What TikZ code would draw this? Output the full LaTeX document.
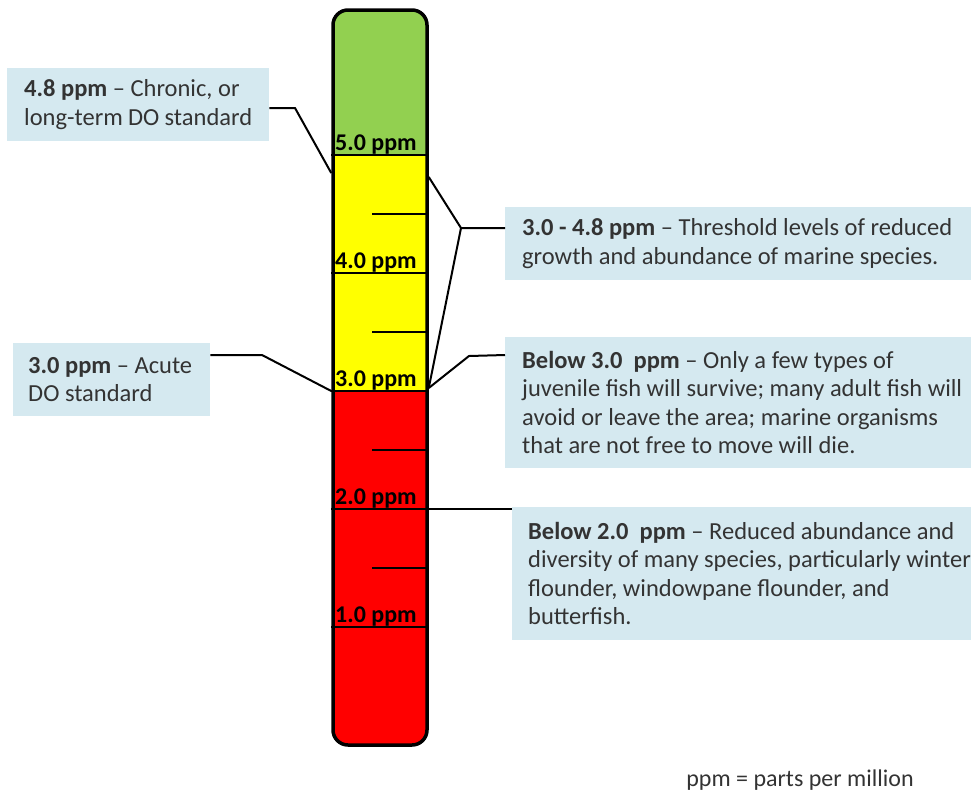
\documentclass[tikz,border=0pt]{standalone}
\usepackage{fontspec}
\setmainfont{Carlito}
\usetikzlibrary{positioning}
\definecolor{dogreen}{RGB}{146,208,80}
\definecolor{doyellow}{RGB}{255,255,0}
\definecolor{dored}{RGB}{255,0,0}
\definecolor{notebg}{RGB}{213,233,240}

\begin{document}
\begin{tikzpicture}[x=1pt,y=-1pt]
  \tikzset{
    note/.style={fill=notebg,anchor=north west,align=flush left,inner xsep=17pt,inner ysep=0pt,
      text=black!80,font=\fontsize{24.5}{28.5}\selectfont},
    level/.style={font=\fontsize{24}{24}\bfseries\selectfont,anchor=south west,inner sep=1pt},
    wire/.style={line width=2pt},
    tick/.style={line width=2.8pt},
  }
  \useasboundingbox (0,0) rectangle (971,793);

  % the tube
  \begin{scope}
    \clip[rounded corners=15] (333,10) rectangle (427,745);
    \fill[dogreen]  (333,10)  rectangle (427,155);
    \fill[doyellow] (333,155) rectangle (427,391);
    \fill[dored]    (333,391) rectangle (427,745);
  \end{scope}
  \node[draw,line width=3.5pt,rounded corners=15,minimum width=94,minimum height=735,inner sep=0pt] (tube) at (380,377.5) {};

  % scale
  \foreach \v/\y in {5/155,4/273,3/391,2/509,1/627} {
    \draw[tick] (tube.west |- 0,\y) -- (tube.east |- 0,\y);
    \node[level] (l\v) at (334,\y) {\v.0 ppm};
  }
  \foreach \y in {214,332,450,568}
    \draw[tick] (372,\y) -- (tube.east |- 0,\y);

  % notes (right ones run off the page edge)
  \node[note,text width=228,minimum height=73] (chronic) at (7,68)
    {\textbf{4.8 ppm} – Chronic, or\\long-term DO standard};
  \node[note,text width=167,inner xsep=15pt,minimum height=73] (acute) at (13,343)
    {\textbf{3.0 ppm} – Acute\\DO standard};
  \node[note,text width=451,minimum height=73] (thresh) at (505,207)
    {\textbf{3.0 - 4.8 ppm} – Threshold levels of reduced\\growth and abundance of marine species.};
  \node[note,text width=451,minimum height=131] (below3) at (505,337)
    {\textbf{Below 3.0~~ppm} – Only a few types of\\juvenile fish will survive; many adult fish will\\avoid or leave the area; marine organisms\\that are not free to move will die.};
  \node[note,text width=446,inner xsep=16pt,minimum height=133] (below2) at (512,507)
    {\textbf{Below 2.0~~ppm} – Reduced abundance and\\diversity of many species, particularly winter\\flounder, windowpane flounder, and\\butterfish.};

  % leaders
  \draw[wire] (chronic.east |- 0,108) -- (295,108) -- (tube.west |- 0,173);
  \draw[wire] (acute.east |- 0,355) -- (262,355) -- (tube.west |- 0,391);
  \coordinate (fork) at (461,228);
  \draw[wire] (thresh.west |- fork) -- (fork) -- (tube.east |- 0,177);
  \draw[wire] (fork) -- (tube.east |- 0,388);
  \draw[wire] (below3.west |- 0,355) -- (469,356) -- (tube.east |- 0,388);
  \draw[line width=1.5pt] (tube.east |- 0,509) -- (below2.west |- 0,509);

  \node[text=black!80,font=\fontsize{24}{24}\selectfont] (key) at (800,780) {ppm = parts per million};
\end{tikzpicture}
\end{document}
